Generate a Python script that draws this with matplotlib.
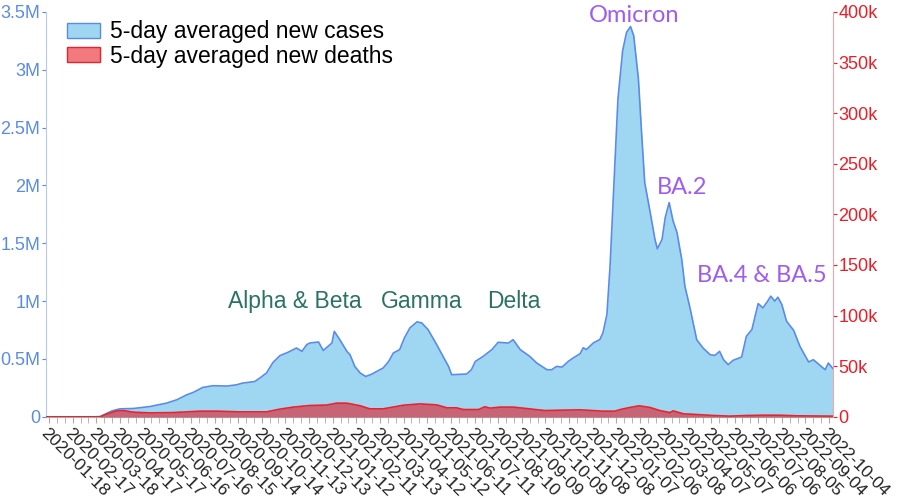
import numpy as np
import pandas as pd
import matplotlib
matplotlib.use("Agg")
import matplotlib.pyplot as plt
from matplotlib.patches import Patch
from matplotlib.ticker import FixedLocator, FuncFormatter

plt.rcParams['font.family'] = ['Liberation Sans', 'DejaVu Sans']

start = pd.Timestamp('2020-01-18')

# 5-day averaged new cases (millions), day offsets from 2020-01-18
case_days = [-4, 58, 65, 80, 90, 107, 128, 149, 162, 175,
             183, 195, 208, 226, 238, 246, 261, 268, 276, 284,
             293, 303, 314, 321, 327, 331, 342, 348, 354, 359,
             362, 369, 378, 382, 388, 395, 402, 410, 416, 424,
             431, 437, 445, 451, 458, 467, 473, 481, 492, 500,
             507, 511, 530, 536, 541, 551, 562, 570, 583, 589,
             598, 610, 619, 632, 638, 644, 651, 659, 665, 674,
             678, 682, 691, 699, 703, 708, 712, 716, 722, 728,
             733, 738, 742, 748, 752, 756, 763, 769, 772, 778,
             782, 787, 792, 797, 803, 807, 813, 822, 830, 839,
             845, 851, 856, 862, 868, 879, 885, 892, 900, 906,
             912, 916, 921, 925, 930, 936, 945, 953, 964, 970,
             976, 985, 989, 995]
cases_m = [0, 0, 0.003, 0.052, 0.069, 0.072, 0.089, 0.118, 0.147, 0.191,
           0.211, 0.254, 0.269, 0.266, 0.277, 0.292, 0.305, 0.338, 0.379, 0.468,
           0.529, 0.557, 0.595, 0.566, 0.624, 0.638, 0.647, 0.574, 0.609, 0.638,
           0.739, 0.667, 0.566, 0.537, 0.436, 0.378, 0.349, 0.370, 0.393, 0.422,
           0.479, 0.552, 0.581, 0.682, 0.769, 0.821, 0.812, 0.754, 0.624, 0.523,
           0.436, 0.364, 0.370, 0.407, 0.479, 0.523, 0.581, 0.644, 0.638, 0.667,
           0.581, 0.523, 0.465, 0.407, 0.407, 0.436, 0.430, 0.479, 0.508, 0.546,
           0.597, 0.582, 0.640, 0.668, 0.726, 0.884, 1.302, 1.880, 2.747, 3.166,
           3.325, 3.374, 3.296, 2.920, 2.458, 2.025, 1.765, 1.534, 1.453, 1.534,
           1.722, 1.852, 1.693, 1.592, 1.360, 1.129, 0.955, 0.667, 0.595, 0.537,
           0.531, 0.566, 0.494, 0.451, 0.488, 0.517, 0.696, 0.754, 0.979, 0.942,
           1.000, 1.043, 1.000, 1.034, 0.971, 0.826, 0.748, 0.609, 0.474, 0.494,
           0.459, 0.407, 0.465, 0.416]

# 5-day averaged new deaths (thousands)
death_days = [-4, 65, 73, 86, 94, 107, 128, 157, 192, 213,
              242, 276, 293, 310, 331, 352, 365, 378, 395, 407,
              424, 450, 471, 492, 505, 517, 526, 545, 553, 560,
              572, 589, 606, 629, 653, 674, 703, 718, 727, 737,
              749, 763, 775, 788, 792, 805, 822, 843, 864, 885,
              906, 928, 949, 991, 995]
deaths_k = [0, 0, 2.7, 5.9, 6.2, 4.6, 3.9, 4.2, 5.6, 5.6,
            4.9, 4.9, 7.6, 9.6, 11.2, 11.6, 13.5, 13.5, 10.9, 7.9,
            7.9, 11.5, 12.8, 11.8, 8.9, 8.9, 7.2, 7.2, 9.9, 8.6,
            9.6, 9.6, 8.2, 6.2, 6.6, 6.9, 5.6, 5.6, 7.6, 9.2,
            10.9, 9.2, 6.2, 4.2, 5.9, 3.0, 2.3, 1.3, 0.7, 1.3,
            1.6, 1.6, 1.0, 0.7, 0.7]

variants = ['Alpha & Beta', 'Gamma', 'Delta']
variant_days = [312, 473, 590]
omicron_labels = ['Omicron', 'BA.2', 'BA.4 & BA.5']
omicron_days = [742, 803, 904]
omicron_y = [3.47, 1.98, 1.22]

case_dates = start + pd.to_timedelta(case_days, unit='D')
death_dates = start + pd.to_timedelta(death_days, unit='D')
cases = np.array(cases_m) * 1e6
deaths = np.array(deaths_k) * 1e3

blue_line = '#5b8be8'
blue_fill = '#9fd7f2'
red_line = '#e8232e'
red_fill = '#e0202c'

fig = plt.figure(figsize=(9, 4.98), dpi=100)
ax = fig.add_axes([0.051, 0.163, 0.8746, 0.813])
ax2 = ax.twinx()

ax.fill_between(case_dates, 0, cases, color=blue_fill, lw=0)
ax.plot(case_dates, cases, color=blue_line, lw=1.2)
ax2.fill_between(death_dates, 0, deaths, color=red_fill, alpha=0.62, lw=0)
ax2.plot(death_dates, deaths, color=red_line, lw=1.2)

ax.set_xlim(start + pd.Timedelta(days=-4), start + pd.Timedelta(days=995))
ax.set_ylim(0, 3.5e6)
ax2.set_ylim(0, 4e5)

ticks = pd.date_range(start, '2022-10-04', freq='30D')
minor = pd.date_range(start, '2022-10-04', freq='10D')
ax.set_xticks(ticks)
ax.set_xticks(minor, minor=True)
ax.set_xticklabels([t.strftime('%Y-%m-%d') for t in ticks], rotation=-45,
                   ha='left', va='top', rotation_mode='anchor', fontsize=12.6,
                   color='#222222')
ax.tick_params(axis='x', which='both', length=4, color='#aaaaaa', pad=2)

ax.yaxis.set_major_locator(FixedLocator(np.arange(0, 3.51e6, 5e5)))
ax.yaxis.set_major_formatter(FuncFormatter(
    lambda v, p: '0' if v == 0 else ('%gM' % (v / 1e6))))
ax.tick_params(axis='y', colors='#5b8be8', labelsize=13, length=3, pad=1)
ax2.yaxis.set_major_locator(FixedLocator(np.arange(0, 4.01e5, 5e4)))
ax2.yaxis.set_major_formatter(FuncFormatter(
    lambda v, p: '0' if v == 0 else ('%gk' % (v / 1e3))))
ax2.tick_params(axis='y', colors='#ee1c25', labelsize=13, length=3, pad=1)

for a in (ax, ax2):
    a.spines['top'].set_visible(False)
ax.spines['left'].set_color('#b7c9f2')
ax2.spines['left'].set_visible(False)
ax2.spines['right'].set_color('#f4a3a6')
ax.spines['right'].set_visible(False)
ax.spines['bottom'].set_color('#aaaaaa')
ax2.spines['bottom'].set_visible(False)

for lab, d in zip(variants, variant_days):
    ax.text(start + pd.Timedelta(days=d), 1.0e6, lab, ha='center', va='center',
            fontsize=16.5, color='#2a7263')
for lab, d, y in zip(omicron_labels, omicron_days, omicron_y):
    ax.text(start + pd.Timedelta(days=d), y * 1e6, lab, ha='center', va='center',
            fontsize=17, color='#a05cf0', family=['Lato', 'DejaVu Sans'])

handles = [Patch(facecolor=blue_fill, edgecolor=blue_line, lw=1),
           Patch(facecolor='#f27a7f', edgecolor=red_line, lw=1)]
ax2.legend(handles, ['5-day averaged new cases', '5-day averaged new deaths'],
           loc='upper left', bbox_to_anchor=(0.0, 1.03), frameon=False,
           fontsize=16.5, handlelength=1.45, handleheight=0.6,
           labelspacing=0.05, handletextpad=0.45)

fig.savefig('out.png', dpi=100)
